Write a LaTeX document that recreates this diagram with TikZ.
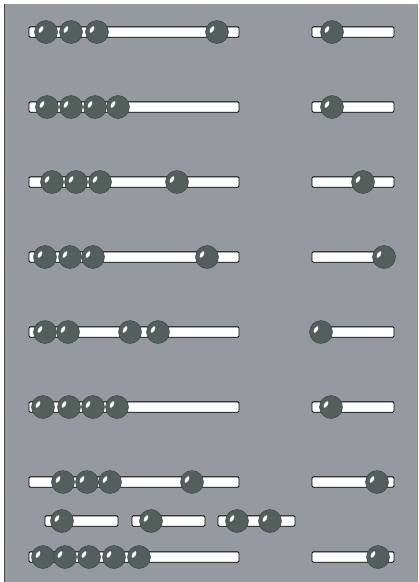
\documentclass[tikz,border=0pt]{standalone}
\usetikzlibrary{calc}
\definecolor{bggray}{RGB}{150,154,160}
\definecolor{beadgray}{RGB}{84,94,91}
\definecolor{beadrim}{RGB}{60,66,64}
\definecolor{framegray}{RGB}{72,72,76}
\tikzset{
  board/.style={fill=bggray},
  bar/.style={draw=black, fill=white, line width=0.9mm, rounded corners=1.2mm},
  bead/.style={circle, fill=beadgray, draw=beadrim, line width=0.4mm, minimum size=23mm, inner sep=0pt},
  shine/.style={fill=white}
}
% rod from x1 to x2 at height y
\newcommand{\rod}[3]{\draw[bar] (#1,#3-5.2) rectangle (#2,#3+5.2);}
% bead: name, x, y
\newcommand{\bead}[3]{%
  \node[bead] (#1) at (#2,#3) {};
  \fill[shine, rotate around={-30:(#2-5,#3-2.5)}] (#2-5,#3-2.5) ellipse (1.7mm and 3.6mm);
}

\begin{document}
\begin{tikzpicture}[x=1mm, y=-1mm]
  \useasboundingbox (0,0) rectangle (418,582);
  % Board
  \fill[white] (0,0) rectangle (418,582);
  \fill[board] (4,4) rectangle (418,582);
  \draw[framegray, line width=0.8mm] (4.5,4) -- (4.5,582);

  % Long rods with the short rod beside them
  \foreach \y/\beads/\rb in {32/{46,71,97,217}/332, 107/{47,71,95,118}/332,
      182/{52,76,100,177}/363, 257/{45,70,93,207}/384, 332/{45,68,130,158}/321,
      407/{43,69,93,117}/331, 482/{63,87,110,192}/377, 557/{43,65,89,114,139}/378} {
    \rod{29}{239}{\y}
    \foreach \x in \beads {
      \bead{b\y-\x}{\x}{\y}
    }
    \rod{312}{394}{\y}
    \bead{r\y}{\rb}{\y}
  }

  % Row of three short rods
  \rod{45}{118}{521}
  \rod{132}{205}{521}
  \rod{218}{295}{521}
  \foreach \x in {62,151,237,270} {
    \bead{s\x}{\x}{521}
  }
\end{tikzpicture}
\end{document}
